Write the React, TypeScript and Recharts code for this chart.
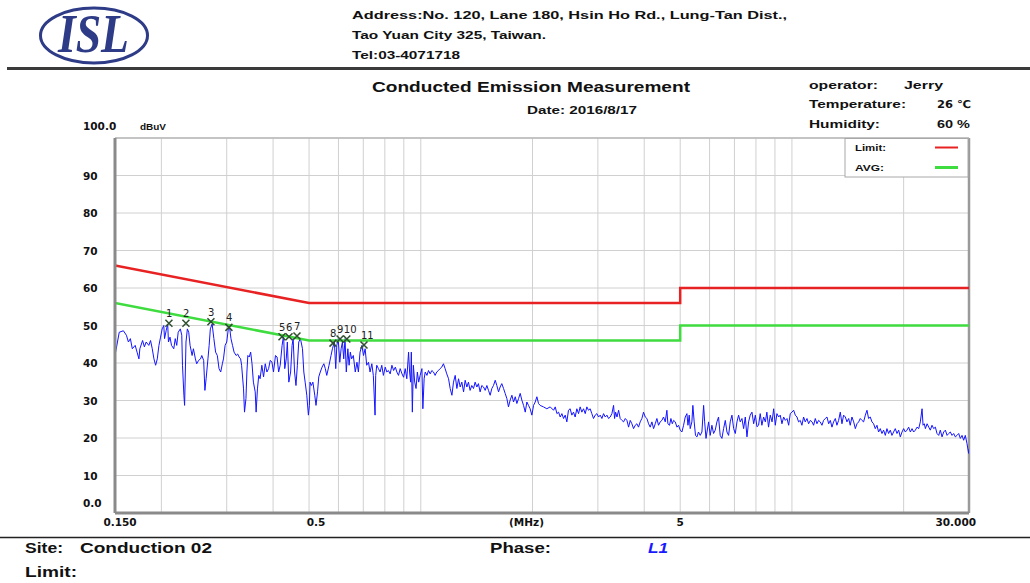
import React from 'react';
import { ComposedChart, Line, Scatter, XAxis, YAxis, CartesianGrid, ReferenceLine } from 'recharts';

// ---------- data ----------
const xGridTicks = [0.15, 0.2, 0.3, 0.4, 0.5, 0.6, 0.7, 0.8, 0.9, 1, 2, 3, 4, 5, 6, 7, 8, 9, 10, 20, 30];
const xTickLabels: Record<string, string> = { '0.15': '0.150', '0.5': '0.5', '2': '(MHz)', '5': '5', '30': '30.000' };
const yTicks = [0, 10, 20, 30, 40, 50, 60, 70, 80, 90, 100];
const yTickLabels: Record<string, string> = { '0': '0.0', '100': '100.0' };

const limitFreq = [0.15, 0.5, 5, 5, 30];
const limitLevel = [66, 56, 56, 60, 60];
const avgFreq = [0.15, 0.5, 5, 5, 30];
const avgLevel = [56, 46, 46, 50, 50];

const markerFreq = [0.2096, 0.2329, 0.272, 0.3041, 0.4227, 0.4415, 0.4639, 0.58, 0.606, 0.632, 0.703];
const markerLevel = [50.6, 50.6, 51.0, 49.5, 47.0, 47.0, 47.2, 45.3, 46.4, 46.4, 44.8];
const markerLabel = ['1', '2', '3', '4', '5', '6', '7', '8', '9', '10', '11'];

// trace [MHz, dBuV]
const traceLow: [number, number][] = [
  [0.150, 42.0], [0.154, 48.2], [0.158, 48.6], [0.161, 47.4], [0.163, 45.6], [0.165, 46.5], [0.167, 43.8], [0.170, 44.7], [0.172, 42.9], [0.174, 41.1],
  [0.175, 43.8], [0.178, 46.0], [0.180, 44.3], [0.182, 45.6], [0.185, 44.7], [0.187, 46.0], [0.189, 43.8], [0.191, 41.1], [0.193, 39.4], [0.195, 41.1],
  [0.197, 44.7], [0.199, 46.9], [0.201, 49.1], [0.203, 50.0], [0.204, 46.5], [0.206, 48.6], [0.208, 50.4], [0.209, 45.6], [0.211, 46.9], [0.213, 44.7],
  [0.216, 43.8], [0.218, 46.5], [0.220, 44.7], [0.222, 48.2], [0.225, 49.1], [0.227, 47.4], [0.228, 39.4], [0.230, 31.4], [0.231, 28.7], [0.233, 45.6],
  [0.235, 49.1], [0.237, 48.2], [0.239, 44.7], [0.242, 42.0], [0.244, 43.8], [0.247, 41.1], [0.249, 39.8], [0.252, 40.7], [0.255, 41.1], [0.257, 42.0],
  [0.260, 40.7], [0.262, 32.7], [0.264, 35.8], [0.267, 41.1], [0.269, 44.7], [0.271, 49.1], [0.274, 50.4], [0.277, 46.5], [0.280, 42.9], [0.283, 42.0],
  [0.286, 38.5], [0.289, 37.6], [0.292, 39.8], [0.294, 41.1], [0.297, 44.7], [0.300, 45.6], [0.303, 49.1], [0.305, 50.0], [0.308, 46.5], [0.311, 44.7],
  [0.314, 42.9], [0.318, 42.0], [0.321, 42.4], [0.324, 41.6], [0.327, 41.1], [0.329, 39.4], [0.333, 33.1], [0.335, 26.9], [0.338, 30.5], [0.340, 37.6],
  [0.342, 42.0], [0.345, 41.6], [0.348, 42.9], [0.351, 39.8], [0.354, 34.9], [0.358, 32.3], [0.360, 26.9], [0.363, 33.1], [0.366, 36.7], [0.369, 35.8],
  [0.373, 39.4], [0.377, 36.3], [0.381, 39.8], [0.385, 37.6], [0.389, 38.5], [0.393, 40.7], [0.397, 40.3], [0.401, 37.6], [0.406, 42.0], [0.410, 41.6],
  [0.414, 37.6], [0.418, 39.4], [0.423, 44.7], [0.427, 47.4], [0.430, 38.5], [0.434, 41.1], [0.437, 45.6], [0.441, 34.9], [0.446, 37.6], [0.450, 44.7],
  [0.453, 46.5], [0.457, 37.6], [0.461, 34.0], [0.465, 39.4], [0.469, 45.6], [0.474, 46.5], [0.480, 43.8], [0.484, 37.6], [0.488, 34.9], [0.493, 31.4],
  [0.498, 26.1], [0.501, 28.7], [0.503, 34.9], [0.507, 34.0], [0.512, 34.9], [0.518, 31.4], [0.522, 28.7], [0.527, 32.3], [0.531, 36.3], [0.536, 37.6],
  [0.542, 38.9], [0.548, 39.8], [0.553, 38.5],
];
const traceMid: [number, number][] = [
  [0.558, 36.7], [0.566, 39.4], [0.573, 42.0], [0.578, 43.8], [0.585, 45.6], [0.590, 38.5], [0.594, 44.7], [0.599, 46.5], [0.605, 40.2], [0.610, 43.8],
  [0.615, 45.6], [0.620, 41.1], [0.625, 46.5], [0.630, 37.6], [0.636, 43.8], [0.641, 39.4], [0.646, 42.9], [0.651, 41.1], [0.658, 42.0], [0.666, 37.6],
  [0.673, 40.2], [0.679, 37.6], [0.686, 42.9], [0.694, 44.7], [0.701, 42.0], [0.708, 43.8], [0.715, 39.4], [0.723, 40.2], [0.730, 37.6], [0.738, 39.8],
  [0.745, 36.7], [0.753, 26.1], [0.756, 36.7], [0.761, 39.4], [0.769, 38.5], [0.777, 37.6], [0.785, 39.4], [0.793, 36.7], [0.802, 38.9], [0.810, 37.6],
  [0.818, 38.0], [0.827, 37.1], [0.836, 39.4], [0.845, 38.0], [0.854, 38.9], [0.862, 37.6], [0.871, 36.7], [0.880, 38.5], [0.890, 37.1], [0.899, 36.2],
  [0.908, 38.5], [0.917, 35.8], [0.927, 42.9], [0.933, 37.6], [0.939, 34.9], [0.943, 42.9], [0.949, 26.9], [0.955, 39.4], [0.963, 34.9], [0.971, 33.2],
  [0.979, 37.6], [0.987, 34.9], [0.996, 36.7], [1.007, 38.5], [1.013, 27.8], [1.021, 35.8], [1.028, 37.6], [1.039, 36.7], [1.049, 38.0], [1.060, 37.1],
  [1.071, 38.0], [1.082, 37.6], [1.093, 36.7], [1.104, 37.6], [1.116, 38.0], [1.127, 38.5], [1.139, 38.9], [1.151, 39.8], [1.163, 38.5], [1.175, 37.1],
  [1.188, 35.8], [1.200, 33.2], [1.213, 31.4], [1.225, 34.9], [1.238, 36.7], [1.251, 33.2], [1.264, 35.8], [1.277, 33.6], [1.290, 34.9], [1.304, 32.3],
  [1.317, 35.4], [1.331, 33.6], [1.344, 34.9], [1.358, 32.7], [1.372, 34.0], [1.387, 33.2], [1.401, 34.9], [1.416, 33.6], [1.430, 34.5], [1.445, 32.3],
  [1.460, 34.0], [1.476, 33.6], [1.491, 32.7], [1.507, 34.0], [1.522, 32.7], [1.538, 31.4], [1.554, 33.2], [1.570, 34.0], [1.587, 35.4], [1.603, 34.0],
  [1.620, 32.3], [1.636, 33.6], [1.653, 34.5], [1.671, 33.2], [1.688, 31.9], [1.706, 30.5], [1.723, 28.3], [1.741, 30.1], [1.760, 31.4], [1.778, 29.6],
  [1.797, 31.0], [1.815, 29.2], [1.834, 30.5], [1.853, 31.9], [1.872, 30.1], [1.892, 28.7], [1.912, 26.9], [1.931, 29.6], [1.951, 28.7], [1.971, 27.8],
  [1.992, 26.1], [2.013, 28.7], [2.034, 29.6], [2.055, 31.0], [2.076, 29.2],
];
const traceHigh: [number, number][] = [
  [2.097, 28.7], [2.141, 28.3], [2.186, 27.8], [2.232, 28.3], [2.279, 27.4], [2.303, 28.3], [2.327, 26.5], [2.351, 26.9], [2.375, 25.6], [2.400, 26.5],
  [2.425, 25.2], [2.450, 26.1], [2.475, 24.3], [2.500, 27.4], [2.526, 27.8], [2.553, 26.1], [2.579, 26.9], [2.606, 25.6], [2.633, 27.8], [2.661, 26.5],
  [2.688, 28.3], [2.716, 26.9], [2.745, 27.8], [2.774, 26.5], [2.802, 28.3], [2.831, 27.4], [2.860, 27.8], [2.890, 26.5], [2.920, 25.2], [2.951, 26.1],
  [2.982, 26.5], [3.013, 25.6], [3.044, 26.1], [3.076, 25.2], [3.108, 26.5], [3.141, 25.6], [3.174, 26.1], [3.206, 25.2], [3.239, 25.6], [3.273, 26.5],
  [3.307, 28.7], [3.328, 25.2], [3.349, 26.9], [3.378, 25.6], [3.412, 27.4], [3.446, 25.2], [3.483, 24.7], [3.519, 24.3], [3.556, 25.2], [3.593, 24.7],
  [3.630, 22.9], [3.667, 24.7], [3.705, 23.8], [3.744, 22.5], [3.783, 23.4], [3.822, 23.8], [3.861, 22.9], [3.901, 24.3], [3.942, 25.2], [3.983, 26.9],
  [4.025, 25.6], [4.067, 25.2], [4.109, 23.8], [4.151, 22.9], [4.195, 24.3], [4.239, 22.5], [4.283, 23.8], [4.327, 25.2], [4.371, 23.4], [4.416, 24.3],
  [4.463, 24.7], [4.509, 25.6], [4.557, 24.3], [4.604, 27.4], [4.632, 23.8], [4.679, 23.4], [4.720, 25.2], [4.760, 23.8], [4.800, 24.7], [4.849, 24.3],
  [4.900, 22.9], [4.950, 23.4], [5.000, 22.1], [5.053, 21.6], [5.106, 23.4], [5.159, 25.6], [5.213, 26.5], [5.246, 23.4], [5.288, 26.1], [5.320, 22.5],
  [5.376, 24.3], [5.409, 28.7], [5.453, 24.3], [5.498, 20.7], [5.547, 20.3], [5.601, 21.6], [5.661, 20.7], [5.721, 21.6], [5.782, 28.7], [5.819, 24.3],
  [5.868, 19.9], [5.904, 21.6], [5.964, 24.3], [6.023, 20.7], [6.087, 23.4], [6.150, 21.2], [6.214, 22.1], [6.279, 24.3], [6.343, 25.6], [6.408, 20.7],
  [6.477, 19.9], [6.545, 22.5], [6.614, 24.7], [6.683, 21.6], [6.751, 20.7], [6.820, 24.3], [6.893, 26.1], [6.966, 22.5], [7.038, 21.2], [7.111, 24.3],
  [7.183, 26.1], [7.256, 24.3], [7.334, 25.2], [7.411, 22.5], [7.488, 25.6], [7.566, 20.3], [7.643, 24.3], [7.721, 26.1], [7.804, 26.9], [7.887, 23.8],
  [7.970, 26.1], [8.050, 23.0], [8.130, 23.4],
];
const traceTop: [number, number][] = [
  [8.214, 26.5], [8.30, 23.4], [8.39, 25.6], [8.48, 24.3], [8.56, 26.9], [8.65, 22.9], [8.742, 26.1], [8.84, 24.3], [8.93, 27.8], [9.02, 23.4],
  [9.11, 26.5], [9.21, 25.6], [9.302, 26.1], [9.40, 23.8], [9.50, 25.6], [9.60, 24.7], [9.70, 25.2], [9.80, 23.4], [9.897, 26.5], [10.0, 26.9],
  [10.11, 27.4], [10.21, 26.1], [10.32, 25.6], [10.42, 24.3], [10.53, 24.7], [10.64, 23.4], [10.75, 25.6], [10.86, 24.3], [10.98, 25.2], [11.09, 23.8],
  [11.21, 24.7], [11.33, 24.3], [11.44, 23.4], [11.56, 25.2], [11.68, 23.8], [11.80, 24.7], [11.92, 24.3], [12.05, 23.4], [12.17, 24.7], [12.30, 25.2],
  [12.43, 25.6], [12.56, 23.8], [12.69, 24.7], [12.82, 22.9], [12.95, 24.3], [13.09, 25.2], [13.22, 23.4], [13.36, 24.7], [13.50, 26.9], [13.64, 23.8],
  [13.78, 26.1], [13.93, 25.6], [14.07, 24.3], [14.22, 25.2], [14.36, 23.4], [14.51, 25.6], [14.67, 24.3], [14.82, 22.5], [14.97, 23.8], [15.13, 24.3],
  [15.28, 25.2], [15.44, 24.7], [15.60, 24.3], [15.77, 26.1], [15.93, 27.4], [16.09, 25.2], [16.26, 25.6], [16.43, 24.3], [16.60, 23.8], [16.77, 22.5],
  [16.95, 23.4], [17.12, 21.6], [17.30, 22.5], [17.48, 21.2], [17.66, 22.1], [17.85, 20.7], [18.03, 22.5], [18.22, 21.2], [18.41, 22.1], [18.60, 20.7],
  [18.79, 21.6], [18.99, 22.5], [19.19, 21.2], [19.39, 22.1], [19.59, 20.3], [19.80, 21.6], [20.00, 22.5], [20.21, 21.6], [20.42, 22.1], [20.63, 22.9],
  [20.85, 21.6], [21.07, 22.5], [21.28, 21.6], [21.51, 22.1], [21.73, 22.9], [21.96, 22.5], [22.18, 24.3], [22.42, 27.8], [22.56, 23.4], [22.74, 23.8],
  [22.89, 22.5], [23.13, 23.8], [23.37, 22.9], [23.60, 22.1], [23.85, 23.4], [24.10, 22.5], [24.35, 22.9], [24.60, 21.2], [24.86, 20.7], [25.11, 22.1],
  [25.38, 20.3], [25.64, 21.6], [25.91, 22.1], [26.18, 20.7], [26.45, 21.2], [26.72, 21.6], [27.00, 20.7], [27.28, 21.2], [27.56, 20.3], [27.85, 20.7],
  [28.14, 21.2], [28.43, 19.9], [28.73, 20.7], [29.02, 19.4], [29.32, 20.7], [29.63, 18.5], [29.93, 15.9], [30.0, 17.0],
];

// ---------- derived tables ----------
const traceData = [...traceLow, ...traceMid, ...traceHigh, ...traceTop].map(([f, v]) => ({ f, v }));
const limitData = limitFreq.map((f, i) => ({ f, v: limitLevel[i] }));
const avgData = avgFreq.map((f, i) => ({ f, v: avgLevel[i] }));
const markerData = markerFreq.map((f, i) => ({ f, v: markerLevel[i], label: markerLabel[i] }));

const BOLD = '"Liberation Sans", Arial, sans-serif';
const TICKFONT = '"DejaVu Sans", sans-serif';

const XTick = (props: any) => {
  const { x, y, payload } = props;
  const key = String(payload.value);
  const label = xTickLabels[key];
  if (!label) return <g />;
  let anchor: 'middle' | 'end' = 'middle';
  let dx = 0;
  if (key === '0.15') dx = 5;
  if (key === '0.5') dx = 7;
  if (key === '2') dx = -6;
  if (key === '30') { anchor = 'end'; dx = 7; }
  return (
    <text x={x + dx} y={y + 5} textAnchor={anchor} fontSize={10.5} fontWeight="bold" fontFamily={TICKFONT} fill="#111">
      {label}
    </text>
  );
};

const YTick = (props: any) => {
  const { y, payload } = props;
  const v = payload.value;
  const label = yTickLabels[String(v)] ?? String(v);
  const dy = v === 100 ? -8 : v === 0 ? -6 : 4;
  return (
    <text x={83} y={y + dy} textAnchor="start" fontSize={10.5} fontWeight="bold" fontFamily={TICKFONT} fill="#111">
      {label}
    </text>
  );
};

const MarkerShape = (props: any) => {
  const { cx, cy, payload } = props;
  if (cx == null || cy == null) return <g />;
  const s = 3.5;
  return (
    <g>
      <path d={`M${cx - s},${cy - s}L${cx + s},${cy + s}M${cx - s},${cy + s}L${cx + s},${cy - s}`} stroke="#2f4f2f" strokeWidth={1.5} fill="none" />
      <text x={cx - 3} y={cy - 6} textAnchor="start" fontSize={10} fontFamily={TICKFONT} fill="#222">
        {payload.label}
      </text>
    </g>
  );
};

const T = (p: { x: number; y: number; w: number; size?: number; fill?: string; italic?: boolean; family?: string; children: React.ReactNode }) => (
  <text
    x={p.x}
    y={p.y}
    textLength={p.w}
    lengthAdjust="spacingAndGlyphs"
    fontSize={p.size ?? 11}
    fontWeight="bold"
    fontStyle={p.italic ? 'italic' : 'normal'}
    fontFamily={p.family ?? BOLD}
    fill={p.fill ?? '#111'}
  >
    {p.children}
  </text>
);

export default function App() {
  return (
    <div style={{ position: 'absolute', left: 0, top: 0, width: 1030, height: 583, background: '#fff', overflow: 'hidden' }}>
      <ComposedChart width={1030} height={583} margin={{ top: 138, right: 61, bottom: 40, left: 80 }}>
        <CartesianGrid stroke="#d0d0d0" strokeWidth={1} />
        <XAxis
          dataKey="f"
          type="number"
          scale="log"
          domain={[0.15, 30]}
          allowDataOverflow
          ticks={xGridTicks}
          interval={0}
          tickLine={false}
          axisLine={{ stroke: '#8a8a8a', strokeWidth: 3 }}
          tick={<XTick />}
          height={30}
        />
        <YAxis
          dataKey="v"
          type="number"
          domain={[0, 100]}
          ticks={yTicks}
          interval={0}
          tickLine={false}
          axisLine={{ stroke: '#8a8a8a', strokeWidth: 3 }}
          tick={<YTick />}
          width={35}
        />
        <ReferenceLine x={30} stroke="#9a9a9a" strokeWidth={2.5} />
        <ReferenceLine y={100} stroke="#b8b8b8" strokeWidth={1.5} />
        <Line data={traceData} dataKey="v" type="linear" stroke="#1414ff" strokeWidth={1} dot={false} isAnimationActive={false} />
        <Line data={limitData} dataKey="v" type="linear" stroke="#e82222" strokeWidth={2.5} dot={false} isAnimationActive={false} />
        <Line data={avgData} dataKey="v" type="linear" stroke="#3fdc3f" strokeWidth={2.5} dot={false} isAnimationActive={false} />
        <Scatter data={markerData} dataKey="v" shape={<MarkerShape />} isAnimationActive={false} />
      </ComposedChart>

      <svg width={1030} height={583} style={{ position: 'absolute', left: 0, top: 0, pointerEvents: 'none' }}>
        {/* logo */}
        <ellipse cx={94} cy={35.5} rx={53.5} ry={27.5} fill="none" stroke="#2e3b86" strokeWidth={3} />
        <text x={58} y={52} textLength={71} lengthAdjust="spacingAndGlyphs" fontSize={54} fontWeight="bold" fontStyle="italic" fontFamily='"Liberation Serif", serif' fill="#2e3b86">ISL</text>

        {/* header */}
        <T x={352} y={19} w={435}>Address:No. 120, Lane 180, Hsin Ho Rd., Lung-Tan Dist.,</T>
        <T x={352} y={39} w={194}>Tao Yuan City 325, Taiwan.</T>
        <T x={352} y={59} w={108}>Tel:03-4071718</T>
        <line x1={7} x2={1030} y1={68.5} y2={68.5} stroke="#3a3a3a" strokeWidth={3} />
        <T x={372} y={92} w={318} size={14}>Conducted Emission Measurement</T>
        <T x={527} y={114} w={110}>Date: 2016/8/17</T>
        <T x={809} y={89} w={69}>operator:</T>
        <T x={904} y={89} w={39}>Jerry</T>
        <T x={809} y={108} w={97}>Temperature:</T>
        <T x={937} y={108} w={34} family='"DejaVu Sans", sans-serif'>26 ℃</T>
        <T x={809} y={128} w={71}>Humidity:</T>
        <T x={937} y={128} w={33}>60 %</T>

        {/* axis unit */}
        <T x={140} y={130} w={26} size={9}>dBuV</T>

        {/* legend */}
        <rect x={845} y={138.5} width={123} height={38.5} fill="#fff" stroke="#a8a8a8" strokeWidth={1} />
        <T x={855} y={151} w={31} size={9}>Limit:</T>
        <line x1={935} x2={958} y1={147.5} y2={147.5} stroke="#e82222" strokeWidth={2} />
        <T x={855} y={171} w={29} size={9}>AVG:</T>
        <line x1={935} x2={958} y1={167.5} y2={167.5} stroke="#3fdc3f" strokeWidth={3} />

        {/* footer */}
        <line x1={0} x2={1030} y1={537.5} y2={537.5} stroke="#222" strokeWidth={1.5} />
        <T x={25} y={553} w={38} size={14}>Site:</T>
        <T x={80} y={553} w={132} size={14}>Conduction 02</T>
        <T x={490} y={553} w={61} size={14}>Phase:</T>
        <T x={648} y={553} w={20} size={14} italic fill="#1a1aff">L1</T>
        <T x={25} y={577} w={52} size={14}>Limit:</T>
      </svg>
    </div>
  );
}
